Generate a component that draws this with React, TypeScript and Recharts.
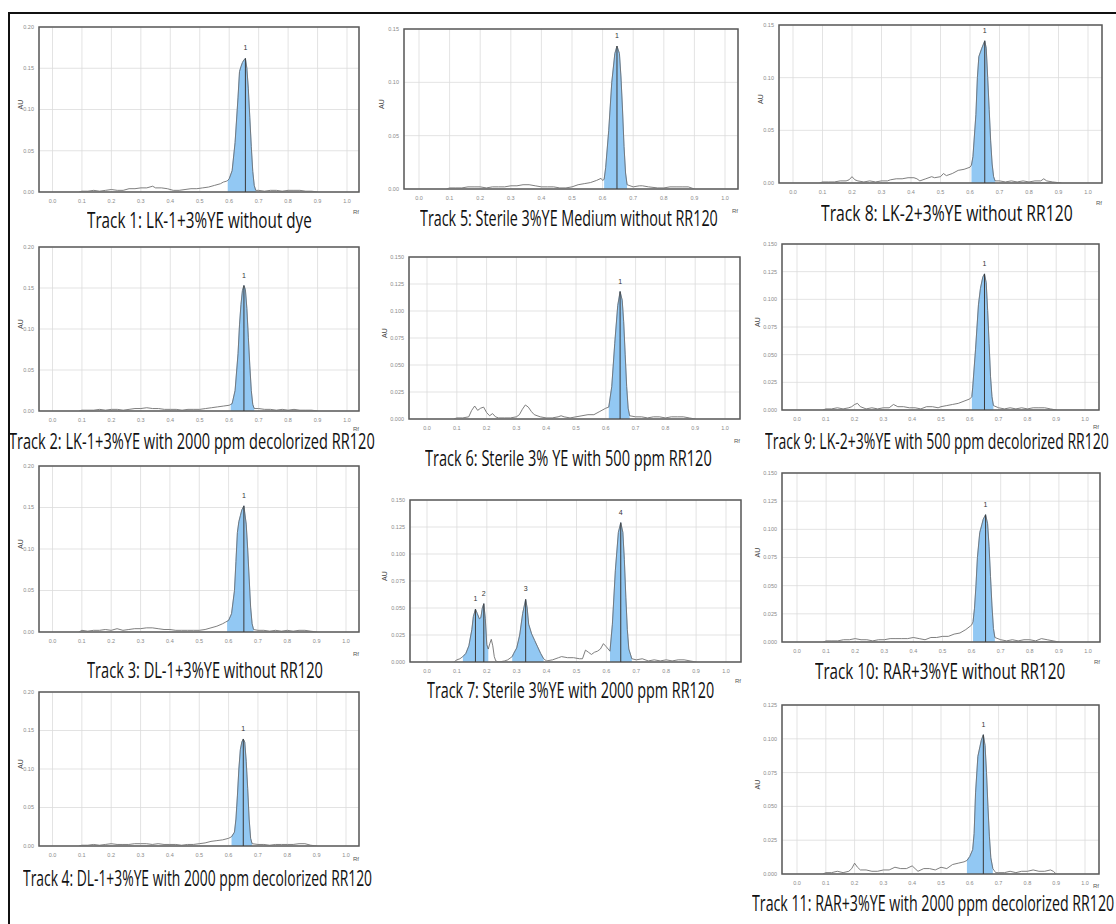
import { useLayoutEffect, useRef, useState } from "react";
import {
  ComposedChart,
  Line,
  Area,
  XAxis,
  YAxis,
  CartesianGrid,
  ReferenceLine,
  ReferenceDot,
  ReferenceArea,
} from "recharts";

type Pt = [number, number];
type Peak = { n: string; rf: number; au: number };

const X_TICKS = [0, 0.1, 0.2, 0.3, 0.4, 0.5, 0.6, 0.7, 0.8, 0.9, 1.0];
const Y_TICKS_A = [0, 0.05, 0.1, 0.15, 0.2];
const Y_TICKS_B = [0, 0.05, 0.1, 0.15];
const Y_TICKS_C = [0, 0.025, 0.05, 0.075, 0.1, 0.125, 0.15];
const Y_TICKS_D = [0, 0.025, 0.05, 0.075, 0.1, 0.125];

// densitometry traces, [Rf, AU]
const TRACK_1: Pt[] = [
  [0.09, 0], [0.1, 0.001], [0.12, 0.001], [0.14, 0.002], [0.16, 0.001], [0.18, 0.002], [0.2, 0.003],
  [0.22, 0.002], [0.24, 0.002], [0.26, 0.004], [0.28, 0.004], [0.3, 0.005], [0.32, 0.005], [0.34, 0.007],
  [0.35, 0.005], [0.37, 0.005], [0.39, 0.004], [0.41, 0.002], [0.43, 0.002], [0.45, 0.003], [0.47, 0.004],
  [0.49, 0.004], [0.51, 0.005], [0.53, 0.006], [0.55, 0.008], [0.57, 0.01], [0.58, 0.012], [0.59, 0.013],
  [0.595, 0.014], [0.6, 0.016], [0.61, 0.026], [0.62, 0.06], [0.63, 0.115], [0.635, 0.146], [0.64, 0.152],
  [0.645, 0.157], [0.65, 0.16], [0.655, 0.162], [0.66, 0.15], [0.665, 0.125], [0.67, 0.09], [0.675, 0.055],
  [0.68, 0.025], [0.685, 0.008], [0.69, 0.002], [0.7, 0.002], [0.72, 0.001], [0.74, 0.002], [0.76, 0.002],
  [0.78, 0.001], [0.8, 0.002], [0.82, 0.002], [0.84, 0.002], [0.86, 0.001], [0.88, 0.001], [0.9, 0],
];
const TRACK_2: Pt[] = [
  [0.09, 0], [0.1, 0.001], [0.12, 0.001], [0.14, 0.001], [0.16, 0.002], [0.18, 0.001], [0.2, 0.002],
  [0.22, 0.002], [0.24, 0.001], [0.26, 0.002], [0.28, 0.003], [0.3, 0.003], [0.32, 0.004], [0.34, 0.003],
  [0.36, 0.003], [0.38, 0.002], [0.4, 0.002], [0.42, 0.002], [0.44, 0.001], [0.46, 0.002], [0.48, 0.002],
  [0.5, 0.002], [0.52, 0.003], [0.54, 0.004], [0.56, 0.005], [0.58, 0.006], [0.6, 0.007], [0.605, 0.008],
  [0.61, 0.009], [0.62, 0.025], [0.63, 0.07], [0.635, 0.105], [0.64, 0.13], [0.645, 0.147], [0.65, 0.153],
  [0.655, 0.148], [0.66, 0.125], [0.665, 0.09], [0.67, 0.055], [0.675, 0.025], [0.68, 0.008], [0.685, 0.003],
  [0.7, 0.003], [0.72, 0.002], [0.74, 0.002], [0.76, 0.001], [0.78, 0.002], [0.8, 0.001], [0.82, 0.002],
  [0.84, 0.001], [0.86, 0.001], [0.88, 0.001], [0.9, 0],
];
const TRACK_3: Pt[] = [
  [0.09, 0], [0.1, 0.002], [0.12, 0.001], [0.14, 0.002], [0.16, 0.002], [0.18, 0.003], [0.2, 0.002],
  [0.22, 0.004], [0.24, 0.002], [0.26, 0.003], [0.28, 0.004], [0.3, 0.004], [0.32, 0.005], [0.34, 0.005],
  [0.36, 0.004], [0.38, 0.003], [0.4, 0.003], [0.42, 0.002], [0.44, 0.002], [0.46, 0.002], [0.48, 0.002],
  [0.5, 0.002], [0.52, 0.003], [0.54, 0.005], [0.56, 0.007], [0.58, 0.01], [0.59, 0.012], [0.595, 0.013],
  [0.6, 0.014], [0.61, 0.022], [0.62, 0.05], [0.625, 0.085], [0.63, 0.12], [0.635, 0.133], [0.64, 0.14],
  [0.645, 0.147], [0.652, 0.152], [0.66, 0.13], [0.665, 0.1], [0.67, 0.065], [0.675, 0.03], [0.68, 0.01],
  [0.685, 0.003], [0.7, 0.002], [0.72, 0.002], [0.74, 0.001], [0.76, 0.002], [0.78, 0.001], [0.8, 0.002],
  [0.82, 0.001], [0.84, 0.002], [0.86, 0.002], [0.88, 0.001], [0.9, 0],
];
const TRACK_4: Pt[] = [
  [0.09, 0], [0.1, 0.001], [0.12, 0.001], [0.14, 0.002], [0.16, 0.001], [0.18, 0.002], [0.2, 0.003],
  [0.22, 0.002], [0.24, 0.002], [0.26, 0.002], [0.28, 0.003], [0.3, 0.003], [0.32, 0.003], [0.34, 0.002],
  [0.36, 0.003], [0.38, 0.002], [0.4, 0.002], [0.42, 0.002], [0.44, 0.001], [0.46, 0.002], [0.48, 0.002],
  [0.5, 0.003], [0.52, 0.004], [0.54, 0.006], [0.56, 0.007], [0.58, 0.008], [0.6, 0.01], [0.61, 0.012],
  [0.62, 0.018], [0.625, 0.035], [0.63, 0.065], [0.635, 0.1], [0.64, 0.125], [0.645, 0.135], [0.65, 0.139],
  [0.655, 0.135], [0.66, 0.11], [0.665, 0.075], [0.67, 0.035], [0.675, 0.01], [0.68, 0.003], [0.7, 0.002],
  [0.72, 0.002], [0.74, 0.001], [0.76, 0.002], [0.78, 0.002], [0.8, 0.002], [0.82, 0.002], [0.84, 0.003],
  [0.86, 0.003], [0.88, 0.001], [0.9, 0],
];
const TRACK_5: Pt[] = [
  [0.09, 0], [0.1, 0.001], [0.12, 0.001], [0.14, 0.001], [0.16, 0.002], [0.18, 0.002], [0.2, 0.002],
  [0.22, 0.001], [0.24, 0.002], [0.26, 0.002], [0.28, 0.002], [0.3, 0.003], [0.32, 0.003], [0.34, 0.004],
  [0.36, 0.004], [0.38, 0.003], [0.4, 0.002], [0.42, 0.002], [0.44, 0.002], [0.46, 0.001], [0.48, 0.001],
  [0.5, 0.002], [0.52, 0.004], [0.54, 0.005], [0.56, 0.006], [0.58, 0.008], [0.595, 0.01], [0.6, 0.008],
  [0.605, 0.009], [0.61, 0.02], [0.62, 0.055], [0.63, 0.1], [0.64, 0.127], [0.647, 0.134], [0.655, 0.127],
  [0.66, 0.105], [0.665, 0.075], [0.67, 0.04], [0.675, 0.015], [0.68, 0.004], [0.7, 0.002], [0.72, 0.003],
  [0.73, 0.003], [0.75, 0.002], [0.78, 0.001], [0.8, 0.001], [0.82, 0.002], [0.84, 0.002], [0.86, 0.002],
  [0.88, 0.002], [0.9, 0],
];
const TRACK_6: Pt[] = [
  [0.09, 0], [0.1, 0.001], [0.12, 0.001], [0.14, 0.002], [0.15, 0.008], [0.16, 0.012], [0.17, 0.008],
  [0.18, 0.01], [0.19, 0.011], [0.2, 0.006], [0.21, 0.003], [0.22, 0.005], [0.23, 0.002], [0.24, 0.001],
  [0.26, 0.001], [0.28, 0.001], [0.3, 0.002], [0.31, 0.004], [0.32, 0.009], [0.33, 0.013], [0.34, 0.011],
  [0.35, 0.007], [0.36, 0.004], [0.38, 0.002], [0.4, 0.001], [0.42, 0.001], [0.44, 0.002], [0.45, 0.003],
  [0.46, 0.002], [0.48, 0.001], [0.5, 0.002], [0.52, 0.003], [0.54, 0.004], [0.56, 0.004], [0.58, 0.007],
  [0.6, 0.01], [0.61, 0.011], [0.62, 0.03], [0.63, 0.07], [0.64, 0.105], [0.648, 0.118], [0.655, 0.11],
  [0.66, 0.09], [0.665, 0.06], [0.67, 0.03], [0.675, 0.01], [0.68, 0.003], [0.7, 0.002], [0.72, 0.002],
  [0.74, 0.001], [0.76, 0.002], [0.78, 0.002], [0.8, 0.001], [0.82, 0.002], [0.84, 0.002], [0.86, 0.002],
  [0.88, 0.001], [0.9, 0],
];
const TRACK_7: Pt[] = [
  [0.09, 0], [0.1, 0.002], [0.11, 0.003], [0.12, 0.005], [0.13, 0.008], [0.14, 0.015], [0.15, 0.03],
  [0.155, 0.042], [0.162, 0.049], [0.168, 0.045], [0.175, 0.04], [0.18, 0.041], [0.185, 0.05], [0.19, 0.054],
  [0.195, 0.04], [0.2, 0.016], [0.205, 0.012], [0.21, 0.017], [0.215, 0.021], [0.22, 0.015], [0.225, 0.005],
  [0.23, 0.001], [0.24, 0], [0.26, 0.001], [0.27, 0.002], [0.285, 0.005], [0.29, 0.008], [0.3, 0.013],
  [0.31, 0.025], [0.32, 0.045], [0.33, 0.058], [0.335, 0.05], [0.34, 0.035], [0.35, 0.026], [0.36, 0.02],
  [0.37, 0.014], [0.38, 0.008], [0.39, 0.003], [0.4, 0.001], [0.42, 0.002], [0.44, 0.004], [0.45, 0.005],
  [0.47, 0.004], [0.49, 0.004], [0.51, 0.003], [0.52, 0.003], [0.53, 0.011], [0.54, 0.009], [0.55, 0.007],
  [0.56, 0.009], [0.57, 0.01], [0.58, 0.012], [0.59, 0.017], [0.6, 0.014], [0.612, 0.01], [0.62, 0.035],
  [0.63, 0.085], [0.64, 0.12], [0.648, 0.129], [0.655, 0.12], [0.66, 0.095], [0.665, 0.06], [0.67, 0.03],
  [0.675, 0.012], [0.685, 0.003], [0.7, 0.002], [0.72, 0.003], [0.74, 0.001], [0.76, 0.002], [0.78, 0.001],
  [0.8, 0.002], [0.82, 0.001], [0.84, 0.002], [0.86, 0.002], [0.88, 0.001], [0.9, 0],
];
const TRACK_8: Pt[] = [
  [0.09, 0], [0.1, 0.001], [0.12, 0.001], [0.14, 0.001], [0.16, 0.002], [0.18, 0.002], [0.19, 0.003],
  [0.2, 0.006], [0.21, 0.003], [0.22, 0.002], [0.24, 0.001], [0.26, 0.002], [0.28, 0.001], [0.3, 0.002],
  [0.32, 0.002], [0.33, 0.003], [0.35, 0.004], [0.37, 0.004], [0.39, 0.005], [0.41, 0.005], [0.42, 0.004],
  [0.43, 0.002], [0.45, 0.004], [0.47, 0.006], [0.48, 0.005], [0.5, 0.006], [0.51, 0.009], [0.52, 0.007],
  [0.54, 0.009], [0.56, 0.012], [0.58, 0.013], [0.6, 0.015], [0.605, 0.017], [0.61, 0.025], [0.62, 0.065],
  [0.625, 0.1], [0.63, 0.12], [0.64, 0.128], [0.65, 0.135], [0.655, 0.128], [0.66, 0.1], [0.665, 0.07],
  [0.67, 0.04], [0.675, 0.018], [0.68, 0.006], [0.685, 0.002], [0.7, 0.002], [0.72, 0.001], [0.74, 0.002],
  [0.76, 0.001], [0.78, 0.002], [0.8, 0.001], [0.82, 0.002], [0.84, 0.002], [0.85, 0.004], [0.86, 0.002],
  [0.88, 0.001], [0.91, 0],
];
const TRACK_9: Pt[] = [
  [0.09, 0], [0.1, 0.001], [0.12, 0.001], [0.14, 0.002], [0.16, 0.001], [0.18, 0.002], [0.19, 0.003],
  [0.2, 0.005], [0.21, 0.006], [0.22, 0.003], [0.24, 0.001], [0.26, 0.002], [0.28, 0.001], [0.3, 0.002],
  [0.32, 0.002], [0.335, 0.005], [0.35, 0.003], [0.37, 0.003], [0.39, 0.002], [0.41, 0.002], [0.43, 0.001],
  [0.45, 0.003], [0.47, 0.003], [0.49, 0.002], [0.5, 0.003], [0.52, 0.004], [0.54, 0.005], [0.56, 0.006],
  [0.58, 0.008], [0.6, 0.01], [0.607, 0.012], [0.61, 0.02], [0.62, 0.055], [0.63, 0.095], [0.637, 0.11],
  [0.645, 0.12], [0.651, 0.123], [0.657, 0.115], [0.662, 0.09], [0.667, 0.06], [0.672, 0.03], [0.677, 0.012],
  [0.682, 0.004], [0.7, 0.002], [0.72, 0.001], [0.74, 0.002], [0.76, 0.001], [0.78, 0.002], [0.8, 0.001],
  [0.82, 0.002], [0.84, 0.002], [0.86, 0.002], [0.88, 0.001], [0.9, 0],
];
const TRACK_10: Pt[] = [
  [0.09, 0], [0.1, 0.001], [0.12, 0.001], [0.14, 0.001], [0.16, 0.002], [0.18, 0.002], [0.2, 0.003],
  [0.22, 0.002], [0.24, 0.002], [0.26, 0.001], [0.28, 0.002], [0.3, 0.002], [0.32, 0.003], [0.34, 0.003],
  [0.36, 0.003], [0.38, 0.003], [0.4, 0.004], [0.42, 0.003], [0.44, 0.002], [0.46, 0.004], [0.48, 0.004],
  [0.5, 0.005], [0.52, 0.005], [0.54, 0.007], [0.56, 0.008], [0.58, 0.011], [0.6, 0.015], [0.605, 0.018],
  [0.61, 0.03], [0.615, 0.05], [0.62, 0.075], [0.628, 0.097], [0.635, 0.104], [0.64, 0.109], [0.648, 0.113],
  [0.655, 0.105], [0.66, 0.085], [0.665, 0.058], [0.67, 0.032], [0.675, 0.012], [0.68, 0.004], [0.7, 0.002],
  [0.72, 0.001], [0.74, 0.002], [0.76, 0.001], [0.78, 0.002], [0.8, 0.002], [0.82, 0.001], [0.84, 0.003],
  [0.86, 0.002], [0.88, 0.001], [0.9, 0],
];
const TRACK_11: Pt[] = [
  [0.09, 0], [0.1, 0.001], [0.12, 0.001], [0.14, 0.002], [0.16, 0.001], [0.18, 0.002], [0.19, 0.004],
  [0.2, 0.008], [0.21, 0.005], [0.22, 0.003], [0.24, 0.003], [0.26, 0.002], [0.28, 0.002], [0.3, 0.003],
  [0.32, 0.003], [0.34, 0.005], [0.36, 0.004], [0.38, 0.004], [0.4, 0.006], [0.41, 0.004], [0.42, 0.002],
  [0.44, 0.004], [0.46, 0.004], [0.48, 0.003], [0.5, 0.005], [0.52, 0.004], [0.54, 0.007], [0.56, 0.008],
  [0.58, 0.009], [0.59, 0.01], [0.6, 0.013], [0.61, 0.018], [0.615, 0.03], [0.62, 0.06], [0.628, 0.087],
  [0.635, 0.094], [0.64, 0.099], [0.647, 0.103], [0.653, 0.095], [0.658, 0.075], [0.663, 0.05], [0.668, 0.028],
  [0.673, 0.012], [0.68, 0.004], [0.69, 0.001], [0.7, 0.001], [0.72, 0.001], [0.74, 0.002], [0.76, 0.001],
  [0.78, 0.002], [0.8, 0.002], [0.82, 0.003], [0.84, 0.002], [0.86, 0.002], [0.88, 0.003], [0.89, 0.002],
  [0.9, 0],
];

// integrated peak windows [start Rf, end Rf]
const RANGES_1 = [[0.595, 0.69]];
const RANGES_2 = [[0.605, 0.685]];
const RANGES_3 = [[0.595, 0.685]];
const RANGES_4 = [[0.61, 0.68]];
const RANGES_5 = [[0.603, 0.68]];
const RANGES_6 = [[0.61, 0.68]];
const RANGES_7 = [[0.12, 0.205], [0.285, 0.395], [0.612, 0.685]];
const RANGES_8 = [[0.603, 0.685]];
const RANGES_9 = [[0.607, 0.682]];
const RANGES_10 = [[0.602, 0.68]];
const RANGES_11 = [[0.59, 0.682]];

const PEAKS_1: Peak[] = [{ n: "1", rf: 0.655, au: 0.162 }];
const PEAKS_2: Peak[] = [{ n: "1", rf: 0.65, au: 0.153 }];
const PEAKS_3: Peak[] = [{ n: "1", rf: 0.652, au: 0.152 }];
const PEAKS_4: Peak[] = [{ n: "1", rf: 0.65, au: 0.139 }];
const PEAKS_5: Peak[] = [{ n: "1", rf: 0.647, au: 0.134 }];
const PEAKS_6: Peak[] = [{ n: "1", rf: 0.648, au: 0.118 }];
const PEAKS_7: Peak[] = [
  { n: "1", rf: 0.162, au: 0.049 },
  { n: "2", rf: 0.19, au: 0.054 },
  { n: "3", rf: 0.33, au: 0.058 },
  { n: "4", rf: 0.648, au: 0.129 },
];
const PEAKS_8: Peak[] = [{ n: "1", rf: 0.65, au: 0.135 }];
const PEAKS_9: Peak[] = [{ n: "1", rf: 0.651, au: 0.123 }];
const PEAKS_10: Peak[] = [{ n: "1", rf: 0.648, au: 0.113 }];
const PEAKS_11: Peak[] = [{ n: "1", rf: 0.647, au: 0.103 }];

const TITLES = [
  "Track 1: LK-1+3%YE without dye",
  "Track 2: LK-1+3%YE with 2000 ppm decolorized RR120",
  "Track 3: DL-1+3%YE without RR120",
  "Track 4: DL-1+3%YE with 2000 ppm decolorized RR120",
  "Track 5: Sterile 3%YE Medium without RR120",
  "Track 6: Sterile 3% YE with 500 ppm RR120",
  "Track 7: Sterile 3%YE with 2000 ppm RR120",
  "Track 8: LK-2+3%YE without RR120",
  "Track 9: LK-2+3%YE with 500 ppm decolorized RR120",
  "Track 10: RAR+3%YE without RR120",
  "Track 11: RAR+3%YE with 2000 ppm decolorized RR120",
];

const TITLE_FONT = "'Open Sans', 'Noto Sans', sans-serif";
const TICK_FONT = "'Liberation Sans', Arial, sans-serif";

// L/T/R/B: plot box; x0/x1: pixel of Rf 0.0 and 1.0; au: AU label inset; rf: Rf label drop below plot
type Box = { L: number; T: number; R: number; B: number; x0: number; x1: number; au: number; rf: number };

function Panel({
  box,
  track,
  ranges,
  peaks,
  yTicks,
  digits,
}: {
  box: Box;
  track: Pt[];
  ranges: number[][];
  peaks: Peak[];
  yTicks: number[];
  digits: number;
}) {
  const { L, T, R, B, x0, x1 } = box;
  const unit = x1 - x0;
  const lo = (L - x0) / unit;
  const hi = (R - x0) / unit;
  const ymax = yTicks[yTicks.length - 1];
  const ML = 34;
  const MT = 16;
  const MR = 6;
  const XH = box.rf + 3;
  const width = R - L + ML + MR;
  const height = B - T + MT + XH;
  const data = track.map(([rf, au]) => ({
    rf,
    au,
    peak: ranges.some(([a, b]) => rf >= a && rf <= b) ? au : null,
  }));

  return (
    <div style={{ position: "absolute", left: L - ML, top: T - MT }}>
      <ComposedChart width={width} height={height} data={data} margin={{ top: MT, right: MR, bottom: 0, left: 0 }}>
        <CartesianGrid stroke="#dcdcdc" strokeWidth={0.8} />
        <XAxis
          type="number"
          dataKey="rf"
          domain={[lo, hi]}
          ticks={X_TICKS}
          interval={0}
          allowDataOverflow
          height={XH}
          tickFormatter={(v: number) => v.toFixed(1)}
          tick={{ fontSize: 5.5, fill: "#8a8a8a", fontFamily: TICK_FONT }}
          tickLine={false}
          axisLine={false}
          tickSize={5}
          label={{ value: "Rf", position: "insideBottomRight", offset: 0, fontSize: 6, fill: "#555", fontFamily: TICK_FONT }}
        />
        <YAxis
          type="number"
          domain={[0, ymax]}
          ticks={yTicks}
          interval={0}
          allowDataOverflow
          width={ML}
          tickFormatter={(v: number) => v.toFixed(digits)}
          tick={{ fontSize: 5.5, fill: "#8a8a8a", fontFamily: TICK_FONT }}
          tickLine={false}
          axisLine={false}
          tickSize={3}
          label={{ value: "AU", angle: -90, position: "insideLeft", offset: box.au, fontSize: 7, fill: "#444", fontFamily: TICK_FONT }}
        />
        <Area
          dataKey="peak"
          type="linear"
          baseValue={0}
          fill="#92c8f3"
          fillOpacity={1}
          stroke="#6aaee8"
          strokeWidth={0.7}
          connectNulls={false}
          dot={false}
          activeDot={false}
          isAnimationActive={false}
        />
        <Line dataKey="au" type="linear" stroke="#707070" strokeWidth={0.9} dot={false} activeDot={false} isAnimationActive={false} />
        {peaks.map((p) => (
          <ReferenceLine
            key={"l" + p.n}
            segment={[
              { x: p.rf, y: 0 },
              { x: p.rf, y: p.au },
            ]}
            stroke="#3a3a3a"
            strokeWidth={1}
          />
        ))}
        {peaks.map((p) => (
          <ReferenceDot
            key={"d" + p.n}
            x={p.rf}
            y={p.au}
            r={1}
            fill="none"
            stroke="none"
            label={{ value: p.n, position: "top", offset: 7, fontSize: 7, fill: "#333", fontFamily: TICK_FONT }}
          />
        ))}
        <ReferenceArea x1={lo} x2={hi} y1={0} y2={ymax} fill="none" stroke="#5a5a5a" strokeWidth={1.5} ifOverflow="visible" />
      </ComposedChart>
    </div>
  );
}

// caption squeezed horizontally to the measured width of the original condensed face
function Title({ text, left, cy, w }: { text: string; left: number; cy: number; w: number }) {
  const ref = useRef<HTMLSpanElement>(null);
  const [sx, setSx] = useState(1);
  useLayoutEffect(() => {
    if (ref.current && ref.current.offsetWidth > 0) setSx(w / ref.current.offsetWidth);
  }, [w, text]);
  return (
    <div style={{ position: "absolute", left, top: cy - 8, height: 16 }}>
      <span
        ref={ref}
        style={{
          display: "inline-block",
          whiteSpace: "nowrap",
          fontFamily: TITLE_FONT,
          fontSize: 21,
          lineHeight: "16px",
          color: "#111",
          transform: `scaleX(${sx})`,
          transformOrigin: "0 50%",
        }}
      >
        {text}
      </span>
    </div>
  );
}

export default function App() {
  return (
    <div
      style={{
        position: "absolute",
        left: 0,
        top: 0,
        width: 1116,
        height: 924,
        overflow: "hidden",
        background: "#fff",
      }}
    >
      <div
        style={{
          position: "absolute",
          left: 8,
          top: 12,
          width: 1120,
          height: 930,
          border: "2px solid #111",
          boxSizing: "border-box",
        }}
      />

      <Panel box={{ L: 39, T: 27, R: 359, B: 192, x0: 52.5, x1: 347, au: 16, rf: 19 }} track={TRACK_1} ranges={RANGES_1} peaks={PEAKS_1} yTicks={Y_TICKS_A} digits={2} />
      <Panel box={{ L: 39, T: 247, R: 359, B: 411, x0: 52.5, x1: 347, au: 16, rf: 17 }} track={TRACK_2} ranges={RANGES_2} peaks={PEAKS_2} yTicks={Y_TICKS_A} digits={2} />
      <Panel box={{ L: 39, T: 466, R: 359, B: 632, x0: 52.5, x1: 346, au: 16, rf: 21 }} track={TRACK_3} ranges={RANGES_3} peaks={PEAKS_3} yTicks={Y_TICKS_A} digits={2} />
      <Panel box={{ L: 39, T: 692, R: 359, B: 846, x0: 52.5, x1: 346, au: 16, rf: 12 }} track={TRACK_4} ranges={RANGES_4} peaks={PEAKS_4} yTicks={Y_TICKS_A} digits={2} />

      <Panel box={{ L: 404, T: 29, R: 738, B: 189, x0: 419, x1: 725, au: 12, rf: 21 }} track={TRACK_5} ranges={RANGES_5} peaks={PEAKS_5} yTicks={Y_TICKS_B} digits={2} />
      <Panel box={{ L: 409, T: 257, R: 740, B: 419, x0: 427, x1: 725, au: 10, rf: 21 }} track={TRACK_6} ranges={RANGES_6} peaks={PEAKS_6} yTicks={Y_TICKS_C} digits={3} />
      <Panel box={{ L: 410, T: 500, R: 741, B: 662, x0: 427, x1: 726, au: 9, rf: 18 }} track={TRACK_7} ranges={RANGES_7} peaks={PEAKS_7} yTicks={Y_TICKS_C} digits={3} />

      <Panel box={{ L: 779, T: 25, R: 1102, B: 183, x0: 793, x1: 1088, au: 16, rf: 19 }} track={TRACK_8} ranges={RANGES_8} peaks={PEAKS_8} yTicks={Y_TICKS_B} digits={2} />
      <Panel box={{ L: 782, T: 244, R: 1099, B: 410, x0: 797, x1: 1085, au: 10, rf: 16 }} track={TRACK_9} ranges={RANGES_9} peaks={PEAKS_9} yTicks={Y_TICKS_C} digits={3} />
      <Panel box={{ L: 782, T: 473, R: 1100, B: 642, x0: 797, x1: 1088, au: 10, rf: 19 }} track={TRACK_10} ranges={RANGES_10} peaks={PEAKS_10} yTicks={Y_TICKS_C} digits={3} />
      <Panel box={{ L: 782, T: 705, R: 1099, B: 874, x0: 797, x1: 1085, au: 10, rf: 11 }} track={TRACK_11} ranges={RANGES_11} peaks={PEAKS_11} yTicks={Y_TICKS_D} digits={3} />

      <Title text={TITLES[0]} left={87} cy={220} w={225} />
      <Title text={TITLES[1]} left={9} cy={441} w={366} />
      <Title text={TITLES[2]} left={87} cy={670} w={236} />
      <Title text={TITLES[3]} left={23} cy={878} w={349} />
      <Title text={TITLES[4]} left={420} cy={218} w={298} />
      <Title text={TITLES[5]} left={425} cy={458} w={287} />
      <Title text={TITLES[6]} left={427} cy={690} w={287} />
      <Title text={TITLES[7]} left={821} cy={213} w={252} />
      <Title text={TITLES[8]} left={765} cy={441} w={344} />
      <Title text={TITLES[9]} left={815} cy={671} w={250} />
      <Title text={TITLES[10]} left={752} cy={903} w={362} />
    </div>
  );
}
